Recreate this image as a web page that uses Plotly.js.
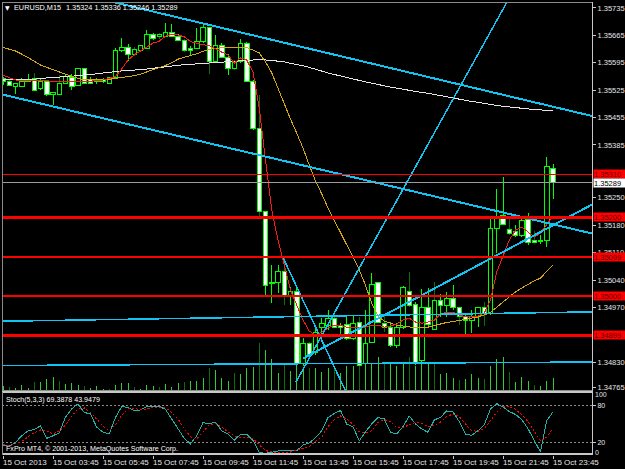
<!DOCTYPE html>
<html><head><meta charset="utf-8">
<script src="https://cdn.plot.ly/plotly-3.0.1.min.js"></script>
<style>
html,body{margin:0;padding:0;background:#000;}
#chart{width:625px;height:469px;}
#chart svg path{shape-rendering:crispEdges;}
</style>
</head><body><div id="chart"></div>
<script>
// ---- DATA (EURUSD M15, 15 Oct 2013, bars from 01:45 to 23:45) ----
const openP = [
1.35555,1.35546,1.35535,1.35535,1.35548,1.35556,1.35528,1.35546,1.35513,1.35515,
1.35543,1.35558,1.35538,1.35579,1.35553,1.35548,1.35551,1.35543,1.35558,1.35625,
1.35635,1.35615,1.35625,1.35632,1.35666,1.35661,1.35663,1.35673,1.35663,1.35653,
1.35632,1.35632,1.35648,1.35684,1.35597,1.35640,1.35609,1.35579,1.35597,1.35645,
1.35548,1.35426,1.35214,1.35033,1.35033,1.35063,1.34997,1.35010,1.34828,1.34879,
1.34854,1.34918,1.34925,1.34941,1.34925,1.34928,1.34892,1.34933,1.34828,1.34882,
1.35033,1.34930,1.34918,1.34872,1.34918,1.35012,1.34979,1.34836,1.34971,1.34915,
1.34987,1.34976,1.34992,1.34969,1.34948,1.34936,1.34948,1.34971,1.34956,1.35171,
1.35204,1.35168,1.35163,1.35155,1.35196,1.35142,1.35140,1.35140,1.35324];
const highP = [
1.35559,1.35551,1.35543,1.35556,1.35566,1.35569,1.35553,1.35551,1.35520,1.35563,
1.35566,1.35566,1.35581,1.35581,1.35558,1.35556,1.35556,1.35559,1.35632,1.35658,
1.35643,1.35635,1.35640,1.35678,1.35671,1.35671,1.35696,1.35694,1.35668,1.35655,
1.35638,1.35684,1.35691,1.35685,1.35666,1.35645,1.35617,1.35602,1.35655,1.35648,
1.35551,1.35513,1.35214,1.35079,1.35079,1.35096,1.35022,1.35022,1.34892,1.34882,
1.34925,1.34943,1.34964,1.34959,1.34930,1.34951,1.34951,1.34946,1.34964,1.35058,
1.35035,1.34951,1.34933,1.34930,1.35025,1.35061,1.34984,1.35017,1.35020,1.35035,
1.35004,1.35010,1.35027,1.34971,1.34956,1.34964,1.34971,1.34984,1.35201,1.35273,
1.35303,1.35198,1.35181,1.35201,1.35211,1.35165,1.35155,1.35354,1.35336];
const lowP = [
1.35538,1.35535,1.35515,1.35533,1.35546,1.35523,1.35525,1.35510,1.35487,1.35513,
1.35541,1.35525,1.35535,1.35541,1.35541,1.35541,1.35543,1.35541,1.35556,1.35622,
1.35599,1.35612,1.35622,1.35630,1.35653,1.35655,1.35663,1.35662,1.35650,1.35622,
1.35615,1.35630,1.35645,1.35566,1.35594,1.35607,1.35563,1.35576,1.35594,1.35546,
1.35423,1.35198,1.35002,1.34981,1.35007,1.34976,1.34976,1.34823,1.34821,1.34844,
1.34849,1.34895,1.34913,1.34918,1.34892,1.34887,1.34887,1.34818,1.34823,1.34879,
1.34930,1.34907,1.34869,1.34867,1.34915,1.34971,1.34823,1.34831,1.34920,1.34913,
1.34946,1.34946,1.34964,1.34925,1.34900,1.34905,1.34920,1.34923,1.34951,1.35109,
1.35181,1.35155,1.35150,1.35150,1.35130,1.35135,1.35132,1.35124,1.35246];
const closeP = [
1.35546,1.35538,1.35541,1.35548,1.35553,1.35525,1.35548,1.35513,1.35518,1.35543,
1.35561,1.35535,1.35579,1.35543,1.35543,1.35546,1.35548,1.35558,1.35625,1.35635,
1.35615,1.35630,1.35638,1.35666,1.35658,1.35666,1.35673,1.35663,1.35653,1.35625,
1.35627,1.35648,1.35684,1.35599,1.35640,1.35609,1.35579,1.35597,1.35645,1.35548,
1.35426,1.35214,1.35027,1.35031,1.35063,1.34997,1.35012,1.34828,1.34879,1.34849,
1.34907,1.34930,1.34941,1.34920,1.34918,1.34892,1.34930,1.34823,1.34879,1.35030,
1.34933,1.34918,1.34872,1.34918,1.35020,1.34976,1.34828,1.34969,1.34928,1.34989,
1.34976,1.34992,1.34971,1.34948,1.34938,1.34946,1.34969,1.34956,1.35171,1.35201,
1.35183,1.35160,1.35155,1.35191,1.35135,1.35137,1.35139,1.35329,1.35289];
const volume = [
125,100,85,140,85,235,225,290,350,250,
165,210,150,125,70,125,60,60,140,210,
210,100,60,150,135,110,165,110,210,225,
250,250,325,585,525,335,250,460,435,565,
600,1210,1025,790,460,665,500,665,540,585,
585,475,585,540,460,625,625,650,665,665,
850,665,665,625,665,850,625,665,685,725,
435,460,335,265,290,435,335,310,625,810,
850,475,235,350,250,150,125,250,335];
const maFast = [
1.35563,1.35556,1.35551,1.35549,1.35549,1.35548,1.35549,1.35549,1.35547,1.35547,
1.35548,1.35548,1.35548,1.35548,1.35548,1.35549,1.35551,1.35555,1.35560,1.35579,
1.35602,1.35615,1.35625,1.35635,1.35645,1.35650,1.35663,1.35668,1.35666,1.35661,
1.35649,1.35645,1.35641,1.35639,1.35630,1.35622,1.35615,1.35594,1.35607,1.35602,
1.35571,1.35479,1.35347,1.35219,1.35142,1.35078,1.35015,1.34976,1.34938,1.34910,
1.34900,1.34907,1.34918,1.34925,1.34925,1.34920,1.34918,1.34920,1.34920,1.34925,
1.34925,1.34920,1.34923,1.34928,1.34938,1.34943,1.34933,1.34930,1.34933,1.34938,
1.34953,1.34958,1.34958,1.34951,1.34946,1.34946,1.34948,1.34956,1.34989,1.35061,
1.35104,1.35142,1.35168,1.35175,1.35163,1.35150,1.35160,1.35181,1.35204];
const maMid = [
1.35634,1.35630,1.35625,1.35617,1.35609,1.35599,1.35589,1.35583,1.35576,1.35571,
1.35565,1.35560,1.35555,1.35552,1.35551,1.35551,1.35551,1.35552,1.35555,1.35557,
1.35560,1.35562,1.35566,1.35571,1.35576,1.35581,1.35588,1.35595,1.35604,1.35609,
1.35613,1.35618,1.35624,1.35629,1.35631,1.35634,1.35634,1.35634,1.35634,1.35634,
1.35627,1.35620,1.35597,1.35569,1.35530,1.35489,1.35451,1.35415,1.35377,1.35334,
1.35293,1.35260,1.35224,1.35193,1.35160,1.35130,1.35099,1.35066,1.35027,1.34981,
1.34948,1.34935,1.34930,1.34925,1.34923,1.34920,1.34918,1.34918,1.34920,1.34924,
1.34928,1.34932,1.34934,1.34937,1.34939,1.34942,1.34946,1.34951,1.34958,1.34971,
1.34984,1.34997,1.35010,1.35020,1.35030,1.35038,1.35045,1.35063,1.35078];
const maSlow = [
1.35553,1.35553,1.35553,1.35553,1.35553,1.35553,1.35555,1.35556,1.35558,1.35559,
1.35560,1.35561,1.35562,1.35563,1.35565,1.35567,1.35569,1.35570,1.35572,1.35574,
1.35575,1.35576,1.35578,1.35579,1.35581,1.35583,1.35585,1.35587,1.35588,1.35590,
1.35591,1.35592,1.35594,1.35595,1.35596,1.35597,1.35598,1.35599,1.35601,1.35601,
1.35602,1.35603,1.35602,1.35601,1.35599,1.35597,1.35594,1.35590,1.35587,1.35583,
1.35578,1.35574,1.35569,1.35565,1.35561,1.35557,1.35553,1.35549,1.35546,1.35543,
1.35539,1.35536,1.35533,1.35530,1.35527,1.35524,1.35522,1.35519,1.35517,1.35514,
1.35510,1.35507,1.35504,1.35501,1.35499,1.35496,1.35494,1.35491,1.35488,1.35486,
1.35484,1.35482,1.35480,1.35478,1.35477,1.35476,1.35475,1.35473,1.35472];
const stochMain = [
16.2,14.6,20.3,31,39.1,40.8,47.3,26.9,31,35.9,
61.2,74.3,82.5,68.6,66.1,44.9,36.7,34.2,60.4,78.4,
76.7,71.8,72.6,78.4,78.4,78.4,73.5,57.9,40.8,26.9,
17.9,31,52.2,50.6,53,39.1,34.2,23.6,33.4,33.4,
23.6,4,2.7,4.8,6.4,7.6,7.6,6.8,16.2,19.5,
27.7,39.1,60.4,66.9,71.8,49.8,45.7,22.8,37.5,50.1,
60.4,58.3,36.4,34.2,45.7,62.8,50.1,41.9,36.7,56.3,
60.9,71,69.4,53.8,33.7,31.8,39.1,48.9,74.3,82.8,
77.5,70.2,65.3,57.1,42.4,22.8,4.8,55.5,69.3878];
const stochSignal = [
17.1,14.6,17.9,22,29.3,35.9,40.3,39.1,34.2,38.3,
48.1,62.8,74.3,75.9,68.6,57.1,46.5,39.1,48.9,63.7,
74.6,74.6,73.5,74.3,77.1,77.2,75.9,68.6,57.9,42.4,
29.3,26,38.3,48.9,50.1,44.9,37.5,31,28.5,28.2,
26.9,16.2,7.2,4.8,4,4,4.8,7.2,10.5,13.8,
21.1,29.3,45.7,57.1,62.8,57.9,49.8,37.5,35.9,39.1,
52.2,57.1,53.8,44,44,48.9,52.2,51.4,45.7,47.3,
53,62,66.1,62,49.8,39.1,38.3,42.4,55.5,69.4,
78.4,78.4,73.5,65.3,53.8,37.5,22.8,28.5,43.9479];
// horizontal levels and drawn trend lines (bar index, price)
const redLevels = [1.35310, 1.35200, 1.35099, 1.35000, 1.34899];
const redLevelWidths = [1, 2.5, 2.5, 2.5, 2.5];
const bidPrice = 1.35289;
const chanUpperX = [17.6, 94.24],  chanUpperY = [1.35750, 1.35459];
const chanLowerX = [-0.16, 94.24], chanLowerY = [1.35514, 1.35159];
const riseSteepX = [46.88, 80.64], riseSteepY = [1.34780, 1.35750];
const fallSteepX = [44.85, 55.04], fallSteepY = [1.35096, 1.34749];
const supportX = [48.0, 94.24],    supportY = [1.34840, 1.35233];
const flatAX = [-0.16, 94.24],     flatAY = [1.34935, 1.34959];
const flatBX = [-0.16, 94.24],     flatBY = [1.34822, 1.34831];
const priceTicks = [1.35735,1.35665,1.35595,1.35525,1.35455,1.35385,1.35250,1.35180,1.35110,1.35040,1.34970,1.34830,1.34765];
const timeTickIdx = [0,8,16,24,32,40,48,56,64,72,80,88];
const timeTickText = ['15 Oct 2013','15 Oct 03:45','15 Oct 05:45','15 Oct 07:45','15 Oct 09:45','15 Oct 11:45',
  '15 Oct 13:45','15 Oct 15:45','15 Oct 17:45','15 Oct 19:45','15 Oct 21:45','15 Oct 23:45'];

// ---- build ----
const n = openP.length;
const idx = openP.map((_, i) => i);
const hourBar = idx.map(i => i % 4 === 1);
function segments(lo, hi, pick) {
  const xs = [], ys = [];
  idx.forEach(i => { if (pick(i)) { xs.push(i, i, null); ys.push(lo[i], hi[i], null); } });
  return {xs, ys};
}
const zeros = idx.map(() => 0);
const LIME = '#00ff00', DARK = '#0b6e0b';
const volL = segments(zeros, volume, i => !hourBar[i]);
const volD = segments(zeros, volume, i => hourBar[i]);
const wickL = segments(lowP, highP, i => !hourBar[i]);
const wickD = segments(lowP, highP, i => hourBar[i]);
const bodyBase = idx.map(i => Math.min(openP[i], closeP[i]));
const bodyLen = idx.map(i => Math.abs(closeP[i] - openP[i]));
const bodyFill = idx.map(i => closeP[i] < openP[i] ? '#ffffff' : '#000000');

const CYAN = '#10c4f4';
const ln = (x, y, yaxis, color, width, dash) => ({type:'scatter', mode:'lines', x, y, xaxis:'x', yaxis,
  line:{color, width, dash: dash || 'solid'}, hoverinfo:'skip', connectgaps:false});

const traces = [
  ln(volL.xs, volL.ys, 'y', '#32cd32', 1),
  ln(volD.xs, volD.ys, 'y', DARK, 1),
  ln(wickL.xs, wickL.ys, 'y3', LIME, 1),
  ln(wickD.xs, wickD.ys, 'y3', DARK, 1),
  {type:'bar', x: idx, y: bodyLen, base: bodyBase, width: 0.72, xaxis:'x', yaxis:'y4',
   marker:{color: bodyFill, line:{color: LIME, width: 1}}, hoverinfo:'skip'},
  ln(idx, maSlow, 'y4', '#e6e6e6', 1),
  ln(idx, maMid, 'y4', '#d4a80e', 1),
  ln(idx, maFast, 'y4', '#ff1a1a', 1),
  ln(chanUpperX, chanUpperY, 'y4', CYAN, 2),
  ln(chanLowerX, chanLowerY, 'y4', CYAN, 2),
  ln(riseSteepX, riseSteepY, 'y4', CYAN, 1.5),
  ln(fallSteepX, fallSteepY, 'y4', CYAN, 1.5),
  ln(supportX, supportY, 'y4', CYAN, 2),
  ln(flatAX, flatAY, 'y4', CYAN, 1.5),
  ln(flatBX, flatBY, 'y4', CYAN, 1.5),
  ln(idx, stochMain, 'y2', '#20b2aa', 1),
  ln(idx, stochSignal, 'y2', '#ff0000', 1, '2px,2px')
];

const FONT = 'Liberation Sans, Arial, sans-serif';
const priceRange = [1.34757, 1.35750];
const shapes = [];
redLevels.forEach((p, k) => shapes.push({type:'line', xref:'paper', x0:0, x1:1, yref:'y4', y0:p, y1:p,
  line:{color:'#ff0000', width: redLevelWidths[k]}, layer:'above'}));
shapes.push({type:'line', xref:'paper', x0:0, x1:1, yref:'y4', y0:bidPrice, y1:bidPrice,
  line:{color:'#9a9aa4', width:1}, layer:'above'});
[20, 80].forEach(v => shapes.push({type:'line', xref:'paper', x0:0, x1:1, yref:'y2', y0:v, y1:v,
  line:{color:'#8c8c8c', width:1, dash:'2px,2px'}, layer:'below'}));
// panel frames
shapes.push({type:'rect', xref:'paper', yref:'paper', x0:0, x1:1, y0:0.1413, y1:1, line:{color:'#8a8a8a', width:1}, layer:'above'});
shapes.push({type:'line', xref:'paper', yref:'paper', x0:0, x1:1, y0:0.1391, y1:0.1391, line:{color:'#c8c8c8', width:2}, layer:'above'});
shapes.push({type:'line', xref:'paper', yref:'paper', x0:0, x1:1, y0:0.002, y1:0.002, line:{color:'#c8c8c8', width:1.5}, layer:'above'});
shapes.push({type:'line', xref:'paper', yref:'paper', x0:0, x1:0, y0:0, y1:0.14, line:{color:'#8a8a8a', width:1}, layer:'above'});
shapes.push({type:'line', xref:'paper', yref:'paper', x0:1, x1:1, y0:0, y1:1, line:{color:'#c8c8c8', width:1}, layer:'above'});

const ann = [];
ann.push({xref:'paper', yref:'paper', x:0, y:1, xanchor:'left', yanchor:'top', xshift:1, yshift:0,
  text:'▼', showarrow:false, font:{family:'DejaVu Sans', size:6, color:'#ffffff'}});
ann.push({xref:'paper', yref:'paper', x:0, y:1, xanchor:'left', yanchor:'top', xshift:10, yshift:1,
  text:'EURUSD,M15', showarrow:false, font:{family:FONT, size:7.3, color:'#ffffff'}});
ann.push({xref:'paper', yref:'paper', x:0, y:1, xanchor:'left', yanchor:'top', xshift:62, yshift:1,
  text:[openP[n-1], highP[n-1], lowP[n-1], closeP[n-1]].map(v => v.toFixed(5)).join(' '),
  showarrow:false, font:{family:FONT, size:7.3, color:'#ffffff'}});
ann.push({xref:'paper', yref:'y2', x:0, y:100, xanchor:'left', yanchor:'top', xshift:2, yshift:-1,
  text:'Stoch(5,3,3) ' + stochMain[n-1].toFixed(4) + ' ' + stochSignal[n-1].toFixed(4), showarrow:false,
  font:{family:FONT, size:7.1, color:'#ffffff'}});
ann.push({xref:'paper', yref:'y2', x:0, y:0, xanchor:'left', yanchor:'bottom', xshift:2, yshift:0,
  text:'FxPro MT4, © 2001-2013, MetaQuotes Software Corp.', showarrow:false,
  font:{family:FONT, size:7.1, color:'#ffffff'}});
ann.push({xref:'paper', yref:'y2', x:1, y:100, xanchor:'left', yanchor:'top', xshift:2, yshift:3,
  text:'100', showarrow:false, borderpad:0, font:{family:FONT, size:7, color:'#e0e0e0'}});
ann.push({xref:'paper', yref:'y2', x:1, y:0, xanchor:'left', yanchor:'bottom', xshift:2, yshift:-2,
  text:'0', showarrow:false, borderpad:0, font:{family:FONT, size:7, color:'#e0e0e0'}});
timeTickIdx.forEach((t, k) => ann.push({xref:'x', yref:'paper', x:t, y:0, xanchor:'left', yanchor:'top',
  xshift:-2, yshift:-1, text:timeTickText[k], showarrow:false, font:{family:FONT, size:8, color:'#e6e6e6'}}));
redLevels.forEach(p => ann.push({xref:'paper', yref:'y4', x:1, y:p, xanchor:'left', yanchor:'middle', xshift:1,
  text:p.toFixed(5), showarrow:false, bgcolor:'#ff0000', borderpad:0, width:32, height:8, align:'left',
  font:{family:FONT, size:7.5, color:'#5a0000'}}));
ann.push({xref:'paper', yref:'y4', x:1, y:bidPrice, xanchor:'left', yanchor:'middle', xshift:1,
  text:bidPrice.toFixed(5), showarrow:false, bgcolor:'#ffffff', borderpad:0, width:32, height:8, align:'left',
  font:{family:FONT, size:7.5, color:'#000000'}});

const layout = {
  width:625, height:469,
  paper_bgcolor:'#000000', plot_bgcolor:'#000000',
  margin:{l:2, r:33, t:2, b:14, pad:0},
  showlegend:false, barmode:'overlay', hovermode:false,
  font:{family:FONT, color:'#e0e0e0', size:7.5},
  xaxis:{range:[-0.16, 94.24], anchor:'y2', showgrid:false, zeroline:false, showline:false,
    tickmode:'array', tickvals:timeTickIdx, ticks:'outside', ticklen:3, tickcolor:'#c8c8c8', showticklabels:false},
  yaxis:{domain:[0.1413, 1], range:[0, 9745], visible:false, fixedrange:true},
  yaxis3:{overlaying:'y', anchor:'x', side:'right', range:priceRange, showgrid:false, zeroline:false,
    tickmode:'array', tickvals:priceTicks, ticktext:priceTicks.map(v => v.toFixed(5)),
    ticks:'outside', ticklen:3, tickcolor:'#c8c8c8', tickfont:{family:FONT, size:7.5, color:'#e6e6e6'}},
  yaxis4:{overlaying:'y', anchor:'x', side:'right', range:priceRange, visible:false},
  yaxis2:{domain:[0, 0.1369], range:[0, 100], anchor:'x', side:'right', showgrid:false, zeroline:false,
    tickmode:'array', tickvals:[20, 80], ticks:'outside', ticklen:3, tickcolor:'#c8c8c8',
    tickfont:{family:FONT, size:7, color:'#e6e6e6'}},
  shapes, annotations: ann
};
Plotly.newPlot('chart', traces, layout, {displayModeBar:false, responsive:false});
</script>
</body></html>
